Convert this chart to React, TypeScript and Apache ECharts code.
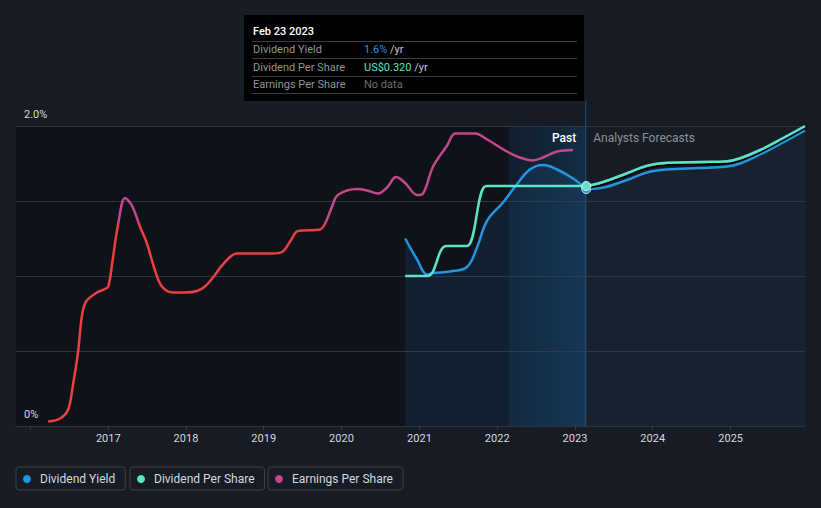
import React, { useEffect, useRef } from 'react';
import * as echarts from 'echarts';

// ---------- data ----------
const xMin = '2015-10-26';
const xMax = '2025-12-16';
const today = '2023-02-23';
const bandStart = '2022-02-23';

const epsDates = [
  '2016-03-25', '2016-05-20', '2016-06-27', '2016-07-19', '2016-08-12', '2016-08-31', '2016-09-19',
  '2016-11-09', '2016-12-12', '2017-01-01', '2017-01-20', '2017-02-17', '2017-03-21', '2017-04-22',
  '2017-05-30', '2017-07-01', '2017-08-08', '2017-09-10', '2017-11-01', '2017-12-27', '2018-02-22',
  '2018-03-31', '2018-05-08', '2018-06-19', '2018-08-28', '2018-11-11', '2019-02-09', '2019-03-28',
  '2019-05-05', '2019-06-11', '2019-09-22', '2019-10-16', '2019-11-17', '2019-12-15', '2020-03-14',
  '2020-04-30', '2020-06-21', '2020-08-02', '2020-09-13', '2020-10-26', '2020-12-21', '2021-01-18',
  '2021-03-06', '2021-05-11', '2021-06-18', '2021-09-20', '2021-11-15', '2022-02-16', '2022-04-17',
  '2022-06-18', '2022-08-04', '2022-10-09', '2022-12-23',
];
const epsValues = [
  0.03, 0.05, 0.11, 0.27, 0.49, 0.74, 0.83,
  0.89, 0.91, 0.93, 1.09, 1.35, 1.52, 1.47,
  1.33, 1.22, 1.04, 0.93, 0.89, 0.89, 0.9,
  0.93, 0.99, 1.07, 1.15, 1.15, 1.15, 1.16,
  1.23, 1.3, 1.31, 1.35, 1.46, 1.54, 1.58,
  1.57, 1.55, 1.59, 1.66, 1.62, 1.54, 1.55,
  1.73, 1.87, 1.95, 1.95, 1.91, 1.83, 1.79,
  1.77, 1.79, 1.83, 1.84,
];
const epsThreshold = 1.35;

const yieldPastDates = [
  '2020-10-26', '2020-12-21', '2021-02-07', '2021-03-06', '2021-05-25', '2021-08-12', '2021-09-28',
  '2021-11-15', '2022-01-28', '2022-04-03', '2022-06-03', '2022-08-04', '2022-10-09', '2022-12-23', '2023-02-23',
];
const yieldPastValues = [1.25, 1.11, 1.01, 1.02, 1.03, 1.06, 1.19, 1.37, 1.49, 1.61, 1.71, 1.74, 1.71, 1.65, 1.58];

const yieldFcDates = [
  '2023-02-23', '2023-04-27', '2023-09-02', '2023-12-05', '2024-03-08', '2024-08-10', '2024-12-15',
  '2025-02-14', '2025-05-19', '2025-09-04', '2025-12-16',
];
const yieldFcValues = [1.58, 1.585, 1.64, 1.69, 1.71, 1.72, 1.73, 1.75, 1.81, 1.89, 1.97];

const dpsPastDates = ['2020-10-26', '2021-02-07', '2021-05-08', '2021-08-12', '2021-11-10', '2023-02-23'];
const dpsPastValues = [0.2, 0.2, 0.24, 0.24, 0.32, 0.32];

const dpsFcDates = [
  '2023-02-23', '2023-04-27', '2023-09-02', '2023-12-05', '2024-03-08', '2024-08-10', '2024-12-15',
  '2025-02-14', '2025-05-19', '2025-09-04', '2025-12-16',
];
const dpsFcValues = [0.32, 0.324, 0.337, 0.347, 0.351, 0.352, 0.353, 0.357, 0.368, 0.384, 0.4];

const yTickLabels: Record<string, string> = { '0': '0%', '2': '2.0%' };

const tooltipTitle = 'Feb 23 2023';
const tooltipLabels = ['Dividend Yield', 'Dividend Per Share', 'Earnings Per Share'];
const tooltipValues = ['1.6%', 'US$0.320', 'No data'];
const tooltipUnits = [' /yr', ' /yr', ''];

const C_YIELD = '#2394df';
const C_DPS = '#5fe3c6';
const C_EPS = '#c2478c';
const C_EPS_LOW = '#e8413f';
const FONT = 'Roboto, "Noto Sans", sans-serif';

const zip = (d: string[], v: number[]) => d.map((x, i) => [x, v[i]]);

export default function App() {
  const ref = useRef<HTMLDivElement>(null);
  useEffect(() => {
    document.body.style.margin = '0';
    const chart = echarts.init(ref.current!, null, { renderer: 'svg' });
    const YEAR = 365.25 * 24 * 3600 * 1000;

    const legendBase = {
      top: 467,
      orient: 'horizontal',
      icon: 'circle',
      itemWidth: 16,
      itemHeight: 8,
      borderColor: '#3a4049',
      borderWidth: 1,
      borderRadius: 3,
      padding: [6, 10, 5, 7],
      textStyle: { color: '#d6d9de', fontSize: 12, fontFamily: FONT },
      selectedMode: false,
    };

    const option: any = {
      animation: false,
      backgroundColor: '#161b24',
      textStyle: { fontFamily: FONT },
      grid: { left: 16, right: 16, top: 126, bottom: 82 },
      xAxis: {
        type: 'time',
        min: xMin,
        max: xMax,
        minInterval: YEAR,
        maxInterval: YEAR,
        splitNumber: 10,
        splitLine: { show: false },
        axisLine: { lineStyle: { color: '#3a3f47' } },
        axisTick: { show: true, length: 4, lineStyle: { color: '#3a3f47' } },
        axisLabel: {
          color: '#d6d9dd',
          fontSize: 11,
          margin: 7,
          fontFamily: FONT,
          formatter: (v: number) => {
            const y = new Date(v).getFullYear();
            return y <= 2016 ? '' : String(y);
          },
        },
      },
      yAxis: [
        {
          type: 'value',
          min: 0,
          max: 2,
          interval: 0.5,
          z: 1,
          axisLine: { show: false },
          axisTick: { show: false },
          splitLine: { lineStyle: { color: '#2e343d', width: 1 } },
          axisLabel: {
            inside: true,
            margin: 8,
            verticalAlign: 'bottom',
            padding: [0, 0, 6, 0],
            color: '#d6d9dd',
            fontSize: 11,
            fontFamily: FONT,
            formatter: (v: number) => yTickLabels[String(v)] || '',
          },
        },
        { type: 'value', min: 0, max: 0.4, show: false },
        { type: 'value', min: 0, max: 2, show: false },
      ],
      legend: [
        { ...legendBase, left: 16, data: [{ name: 'Dividend Yield', itemStyle: { color: C_YIELD } }] },
        { ...legendBase, left: 130, data: [{ name: 'Dividend Per Share', itemStyle: { color: C_DPS } }] },
        { ...legendBase, left: 268, data: [{ name: 'Earnings Per Share', itemStyle: { color: C_EPS } }] },
      ],
      series: [
        {
          type: 'line',
          name: 'bg',
          data: [[xMin, 0], [xMax, 0]],
          z: -1,
          silent: true,
          symbol: 'none',
          lineStyle: { opacity: 0 },
          markArea: {
            silent: true,
            z: -1,
            data: [
              [{ xAxis: xMin, itemStyle: { color: 'rgba(0,0,0,0.3)' } }, { xAxis: today }],
              [
                {
                  xAxis: bandStart,
                  itemStyle: {
                    color: new echarts.graphic.LinearGradient(0, 0, 1, 0, [
                      { offset: 0, color: 'rgba(30,95,150,0.14)' },
                      { offset: 1, color: 'rgba(30,110,175,0.3)' },
                    ]),
                  },
                },
                { xAxis: today },
              ],
            ],
          },
        },
        {
          type: 'line',
          name: 'Dividend Yield',
          data: zip(yieldPastDates, yieldPastValues),
          yAxisIndex: 0,
          smooth: 0.4,
          symbol: 'none',
          z: 3,
          lineStyle: { color: C_YIELD, width: 2.5 },
          itemStyle: { color: C_YIELD },
          areaStyle: { color: 'rgba(35,120,190,0.2)' },
        },
        {
          type: 'line',
          name: 'Dividend Yield',
          data: zip(yieldFcDates, yieldFcValues).map((p, i) =>
            i === 0
              ? { value: p, symbol: 'circle', symbolSize: 9, itemStyle: { color: C_YIELD, borderColor: '#d8e2ea', borderWidth: 1 } }
              : { value: p }
          ),
          yAxisIndex: 0,
          smooth: 0.4,
          symbol: 'none',
          showSymbol: true,
          z: 3,
          lineStyle: { color: C_YIELD, width: 2.5 },
          itemStyle: { color: C_YIELD },
          areaStyle: { color: 'rgba(40,100,160,0.13)' },
        },
        {
          type: 'line',
          name: 'Dividend Per Share',
          data: zip(dpsPastDates, dpsPastValues),
          yAxisIndex: 1,
          smooth: 0.5,
          smoothMonotone: 'x',
          symbol: 'none',
          z: 4,
          lineStyle: { color: C_DPS, width: 2.5 },
          itemStyle: { color: C_DPS },
        },
        {
          type: 'line',
          name: 'Dividend Per Share',
          data: zip(dpsFcDates, dpsFcValues).map((p, i) =>
            i === 0
              ? { value: p, symbol: 'circle', symbolSize: 9, itemStyle: { color: C_DPS, borderColor: '#e6f0f0', borderWidth: 1 } }
              : { value: p }
          ),
          yAxisIndex: 1,
          smooth: 0.4,
          symbol: 'none',
          showSymbol: true,
          z: 5,
          lineStyle: { color: C_DPS, width: 2.5, shadowColor: 'rgba(0,0,0,0.9)', shadowOffsetY: 2, shadowBlur: 0 },
          itemStyle: { color: C_DPS },
        },
        {
          type: 'line',
          name: 'Earnings Per Share',
          data: zip(epsDates, epsValues),
          yAxisIndex: 2,
          smooth: 0.35,
          symbol: 'none',
          z: 3,
          lineStyle: { width: 2.5, color: C_EPS },
          itemStyle: { color: C_EPS },
        },
      ],
    };

    chart.setOption(option);

    const xT = chart.convertToPixel({ xAxisIndex: 0 }, today) as number;
    const yBottom = chart.convertToPixel({ yAxisIndex: 0 }, 0) as number;
    const yTop = chart.convertToPixel({ yAxisIndex: 0 }, 2) as number;
    const yThr = chart.convertToPixel({ yAxisIndex: 2 }, epsThreshold) as number;
    const t = (yThr - yTop) / (yBottom - yTop);

    const boxW = 340;
    const boxL = Math.round(xT) - boxW - 2;
    const boxT = 15;
    const rowY = [49, 67, 84];
    const sepY = [41, 58, 76, 93];

    const graphics: any[] = [
      {
        type: 'line',
        silent: true,
        z: 1,
        shape: { x1: xT - 0.5, y1: boxT + 86, x2: xT - 0.5, y2: yBottom },
        style: { stroke: '#21507a', lineWidth: 1 },
      },
      {
        type: 'text',
        x: xT - 10,
        y: yTop + 12,
        z: 20,
        style: { text: 'Past', fill: '#ffffff', font: `500 12px ${FONT}`, textAlign: 'right', textVerticalAlign: 'middle' },
      },
      {
        type: 'text',
        x: xT + 7,
        y: yTop + 12,
        z: 20,
        style: { text: 'Analysts Forecasts', fill: '#8b929b', font: `12px ${FONT}`, textAlign: 'left', textVerticalAlign: 'middle' },
      },
      {
        type: 'rect',
        shape: { x: boxL, y: boxT, width: boxW, height: 86 },
        style: { fill: '#000000' },
        z: 30,
      },
      {
        type: 'text',
        x: boxL + 9,
        y: 31,
        z: 31,
        style: { text: tooltipTitle, fill: '#ffffff', font: `500 11px ${FONT}`, textVerticalAlign: 'middle' },
      },
    ];
    sepY.forEach((y) =>
      graphics.push({
        type: 'line',
        z: 31,
        shape: { x1: boxL + 8, y1: y + 0.5, x2: boxL + 333, y2: y + 0.5 },
        style: { stroke: '#3b3d40', lineWidth: 1 },
      })
    );
    const valColors = [C_YIELD, C_DPS, '#6b7078'];
    tooltipLabels.forEach((lab, i) => {
      graphics.push({
        type: 'text',
        x: boxL + 9,
        y: rowY[i],
        z: 31,
        style: { text: lab, fill: '#8f959d', font: `11px ${FONT}`, textVerticalAlign: 'middle' },
      });
      graphics.push({
        type: 'text',
        x: boxL + 120,
        y: rowY[i],
        z: 31,
        style: {
          text: `{v|${tooltipValues[i]}}{u|${tooltipUnits[i]}}`,
          textVerticalAlign: 'middle',
          rich: {
            v: { fill: valColors[i], font: `11px ${FONT}` },
            u: { fill: '#c4c8cd', font: `11px ${FONT}` },
          },
        },
      });
    });

    chart.setOption({
      graphic: graphics,
      series: [
        {}, {}, {}, {}, {},
        {
          lineStyle: {
            color: new echarts.graphic.LinearGradient(
              0, yTop, 0, yBottom,
              [
                { offset: 0, color: C_EPS },
                { offset: t, color: C_EPS },
                { offset: t, color: C_EPS_LOW },
                { offset: 1, color: C_EPS_LOW },
              ],
              true
            ),
          },
        },
      ],
    });

    return () => chart.dispose();
  }, []);

  return <div ref={ref} style={{ width: 821, height: 508 }} />;
}
